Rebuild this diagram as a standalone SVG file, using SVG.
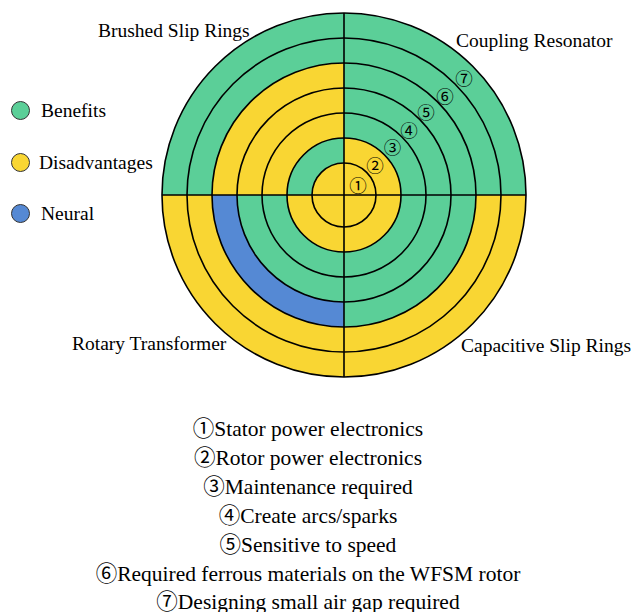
<svg xmlns="http://www.w3.org/2000/svg" width="633" height="612" viewBox="0 0 633 612">
<style>
.g{fill:#5BCF98}
.y{fill:#F9D633}
.b{fill:#5589D4}
.ln{fill:none;stroke:#000;stroke-width:1.6}
.t{font-family:"Liberation Serif","Noto Sans CJK SC",serif;fill:#000}
.lbl{font-size:19.5px}
.num{font-size:17.5px;text-anchor:middle}
.lst{font-size:21.5px;text-anchor:middle}
.leg{stroke:#333;stroke-width:1}
</style>
<rect width="633" height="612" fill="#fff"/>
<g transform="translate(344,195)">
<g id="brushed-slip-rings">
<path class="g" d="M0,0 H-182 A182 182 0 0 1 0,-182 Z"/>
<path class="y" d="M0,0 H-132 A132 132 0 0 1 0,-132 Z"/>
<path class="g" d="M0,0 H-57 A57 57 0 0 1 0,-57 Z"/>
<path class="y" d="M0,0 H-32 A32 32 0 0 1 0,-32 Z"/>
</g>
<g id="coupling-resonator">
<path class="g" d="M0,0 V-182 A182 182 0 0 1 182,0 Z"/>
<path class="y" d="M0,0 V-57 A57 57 0 0 1 57,0 Z"/>
</g>
<g id="rotary-transformer">
<path class="y" d="M0,0 V182 A182 182 0 0 1 -182,0 Z"/>
<path class="b" d="M0,0 V132 A132 132 0 0 1 -132,0 Z"/>
<path class="g" d="M0,0 V107 A107 107 0 0 1 -107,0 Z"/>
<path class="y" d="M0,0 V57 A57 57 0 0 1 -57,0 Z"/>
</g>
<g id="capacitive-slip-rings">
<path class="y" d="M0,0 H182 A182 182 0 0 1 0,182 Z"/>
<path class="g" d="M0,0 H132 A132 132 0 0 1 0,132 Z"/>
<path class="y" d="M0,0 H57 A57 57 0 0 1 0,57 Z"/>
</g>
<g id="connectors">
<circle class="ln" r="32"/>
<circle class="ln" r="57"/>
<circle class="ln" r="82"/>
<circle class="ln" r="107"/>
<circle class="ln" r="132"/>
<circle class="ln" r="157"/>
<circle class="ln" r="182"/>
<path class="ln" d="M0,-182 V182 M-182,0 H182"/>
</g>
</g>
<g id="ring-numbers" class="t num">
<text x="358" y="192">①</text>
<text x="375" y="172">②</text>
<text x="392.5" y="154">③</text>
<text x="409" y="137">④</text>
<text x="426" y="119">⑤</text>
<text x="445" y="103">⑥</text>
<text x="464" y="85">⑦</text>
</g>
<g id="quadrant-labels" class="t lbl">
<text x="98" y="37">Brushed Slip Rings</text>
<text x="456" y="47">Coupling Resonator</text>
<text x="72" y="350">Rotary Transformer</text>
<text x="461" y="352">Capacitive Slip Rings</text>
</g>
<g id="legend-benefits">
<circle class="g leg" cx="20.5" cy="110.5" r="9"/>
<text class="t lbl" x="41" y="117">Benefits</text>
</g>
<g id="legend-disadvantages">
<circle class="y leg" cx="20.5" cy="162.5" r="9"/>
<text class="t lbl" x="39" y="169">Disadvantages</text>
</g>
<g id="legend-neural">
<circle class="b leg" cx="20.5" cy="213.5" r="9"/>
<text class="t lbl" x="41" y="220">Neural</text>
</g>
<g id="notes" class="t lst">
<text x="308" y="436">①Stator power electronics</text>
<text x="308" y="465">②Rotor power electronics</text>
<text x="308" y="494">③Maintenance required</text>
<text x="308" y="523">④Create arcs/sparks</text>
<text x="308" y="552">⑤Sensitive to speed</text>
<text x="308" y="581">⑥Required ferrous materials on the WFSM rotor</text>
<text x="308" y="609">⑦Designing small air gap required</text>
</g>
</svg>
